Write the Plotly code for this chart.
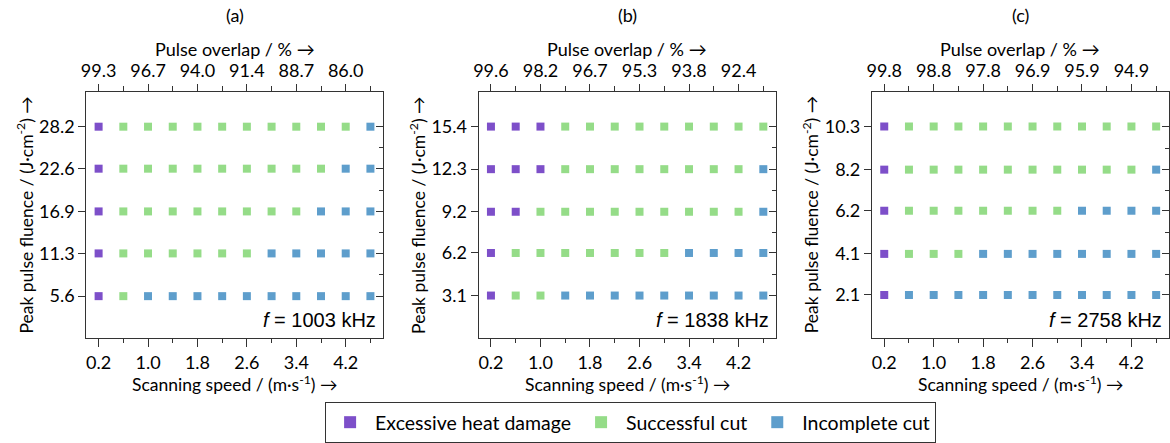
import plotly.graph_objects as go

# ---------------- data ----------------
speeds = [0.2, 0.6, 1.0, 1.4, 1.8, 2.2, 2.6, 3.0, 3.4, 3.8, 4.2, 4.6]
speed_ticks = [0.2, 1.0, 1.8, 2.6, 3.4, 4.2]
speed_minor = [0.6, 1.4, 2.2, 3.0, 3.8, 4.6]

panel_labels = ["(a)", "(b)", "(c)"]
frequencies = ["1003", "1838", "2758"]

overlap_a = ["99.3", "96.7", "94.0", "91.4", "88.7", "86.0"]
overlap_b = ["99.6", "98.2", "96.7", "95.3", "93.8", "92.4"]
overlap_c = ["99.8", "98.8", "97.8", "96.9", "95.9", "94.9"]

fluence_a = [5.6, 11.3, 16.9, 22.6, 28.2]
fluence_b = [3.1, 6.2, 9.2, 12.3, 15.4]
fluence_c = [2.1, 4.1, 6.2, 8.2, 10.3]

# E = excessive heat damage, S = successful cut, I = incomplete cut
# one string per fluence row (bottom to top), one letter per scanning speed
status_a = ["ESIIIIIIIIII",
            "ESSSSSSIIIII",
            "ESSSSSSSSIII",
            "ESSSSSSSSSII",
            "ESSSSSSSSSSI"]
status_b = ["ESSIIIIIIIII",
            "ESSSSSSSIIII",
            "EESSSSSSSSSI",
            "EEESSSSSSSSI",
            "EEESSSSSSSSS"]
status_c = ["EIIIIIIIIIII",
            "ESSSIIIIIIII",
            "ESSSSSSSIIII",
            "ESSSSSSSSSSI",
            "ESSSSSSSSSSS"]

categories = ["Excessive heat damage", "Successful cut", "Incomplete cut"]
codes = ["E", "S", "I"]
colors = ["#7D4FC9", "#95DC88", "#5E9ECC"]

overlaps = [overlap_a, overlap_b, overlap_c]
fluences = [fluence_a, fluence_b, fluence_c]
statuses = [status_a, status_b, status_c]

# ---------------- layout helpers ----------------
W, H = 1170, 443
x_px = [(81.6, 379.4), (475.6, 774.0), (870.6, 1168.5)]
y_px = (93, 342)
ydom = [1 - y_px[1] / H, 1 - y_px[0] / H]

FONT = "Lato"
FS = 17.5    # titles
TFS = 18     # tick labels
LINE = "#333333"

fig = go.Figure()
layout = dict(
    width=W, height=H,
    margin=dict(l=0, r=0, t=0, b=0),
    paper_bgcolor="white", plot_bgcolor="white",
    font=dict(family=FONT, size=FS, color="black"),
    showlegend=True,
    legend=dict(orientation="h", x=0.537, xanchor="center", y=-0.012, yanchor="bottom",
                bordercolor=LINE, borderwidth=1, font=dict(family=FONT, size=19.5),
                itemsizing="constant", itemwidth=40, tracegroupgap=0),
)
annotations = []

for p in range(3):
    xb = 2 * p + 1      # bottom x axis index
    xt = 2 * p + 2      # top x axis index
    yl = 2 * p + 1      # left y axis
    yr = 2 * p + 2      # right y axis
    xname = "x" if xb == 1 else f"x{xb}"
    yname = "y" if yl == 1 else f"y{yl}"
    xdom = [x_px[p][0] / W, x_px[p][1] / W]

    fl = fluences[p]
    step = (fl[-1] - fl[0]) / 4
    yrange = [0, fl[-1] + step * 0.82]
    ymid = [(fl[i] + fl[i + 1]) / 2 for i in range(4)]

    for c in range(3):
        xs, ys = [], []
        for r, row in enumerate(statuses[p]):
            for k, s in enumerate(row):
                if s == codes[c]:
                    xs.append(speeds[k])
                    ys.append(fl[r])
        fig.add_trace(go.Scatter(
            x=xs, y=ys, mode="markers", name=categories[c],
            legendgroup=categories[c], showlegend=(p == 0),
            marker=dict(symbol="square", size=8, color=colors[c], line=dict(width=0)),
            xaxis=xname, yaxis=yname, cliponaxis=False,
        ))
    # empty trace so that the overlaid top / right axes get drawn
    fig.add_trace(go.Scatter(x=[], y=[], mode="markers", showlegend=False,
                             hoverinfo="skip", xaxis=f"x{xt}", yaxis=f"y{yr}"))

    layout[f"xaxis{xb}"] = dict(
        domain=xdom, anchor=yname, range=[0, 4.8],
        showline=True, mirror=True, linecolor=LINE, linewidth=1,
        showgrid=False, zeroline=False,
        tickmode="array", tickvals=speed_ticks,
        ticktext=[f"{v:.1f}" for v in speed_ticks],
        ticks="outside", ticklen=8, tickcolor=LINE, tickwidth=1,
        minor=dict(tickmode="array", tickvals=speed_minor, ticks="outside",
                   ticklen=4, tickcolor=LINE, tickwidth=1),
        tickfont=dict(family=FONT, size=TFS),
    )
    layout[f"xaxis{xt}"] = dict(
        overlaying=xname, anchor=f"y{yr}", side="top", range=[0, 4.8],
        showline=False, showgrid=False, zeroline=False,
        tickmode="array", tickvals=speed_ticks, ticktext=overlaps[p],
        ticks="outside", ticklen=7, tickcolor=LINE, tickwidth=1,
        minor=dict(tickmode="array", tickvals=speed_minor, ticks="outside",
                   ticklen=5, tickcolor=LINE, tickwidth=1),
        tickfont=dict(family=FONT, size=TFS),
    )
    layout[f"yaxis{yl}"] = dict(
        domain=ydom, anchor=xname, range=yrange,
        showline=True, mirror=True, linecolor=LINE, linewidth=1,
        showgrid=False, zeroline=False,
        tickmode="array", tickvals=fl, ticktext=[f"{v:.1f}" for v in fl],
        ticks="outside", ticklen=7, tickcolor=LINE, tickwidth=1,
        tickfont=dict(family=FONT, size=TFS),
    )
    layout[f"yaxis{yr}"] = dict(
        overlaying=yname, anchor=f"x{xt}", side="right", range=yrange,
        showline=False, showgrid=False, zeroline=False, showticklabels=False,
        tickmode="array", tickvals=fl,
        ticks="inside", ticklen=7, tickcolor=LINE, tickwidth=1,
        minor=dict(tickmode="array", tickvals=ymid, ticks="inside",
                   ticklen=4, tickcolor=LINE, tickwidth=1),
    )

    cx = (xdom[0] + xdom[1]) / 2
    annotations += [
        dict(text=panel_labels[p], x=cx, y=1 - 15 / H, xref="paper", yref="paper",
             showarrow=False, xanchor="center", yanchor="middle",
             font=dict(family=FONT, size=18)),
        dict(text="Pulse overlap / % →", x=cx, y=1 - 50 / H, xref="paper", yref="paper",
             showarrow=False, xanchor="center", yanchor="middle",
             font=dict(family=FONT, size=18)),
        dict(text="Scanning speed / (m·s<sup>-1</sup>) →", x=cx, y=1 - 388 / H,
             xref="paper", yref="paper", showarrow=False,
             xanchor="center", yanchor="middle", font=dict(family=FONT, size=FS)),
        dict(text="Peak pulse fluence / (J·cm<sup>-2</sup>) →", textangle=-90,
             x=(x_px[p][0] - 62) / W, y=(ydom[0] + ydom[1]) / 2,
             xref="paper", yref="paper", showarrow=False,
             xanchor="center", yanchor="middle", font=dict(family=FONT, size=FS)),
        dict(text=f"<i>f</i> = {frequencies[p]} kHz", x=0.985, y=0.02,
             xref=f"{xname} domain", yref=f"{yname} domain", showarrow=False,
             xanchor="right", yanchor="bottom",
             font=dict(family="Liberation Sans", size=20)),
    ]

layout["annotations"] = annotations
fig.update_layout(**layout)
fig.write_html("out.html", config={"displayModeBar": False},
               post_script="document.body.style.margin='0px';document.body.style.padding='0px';")
